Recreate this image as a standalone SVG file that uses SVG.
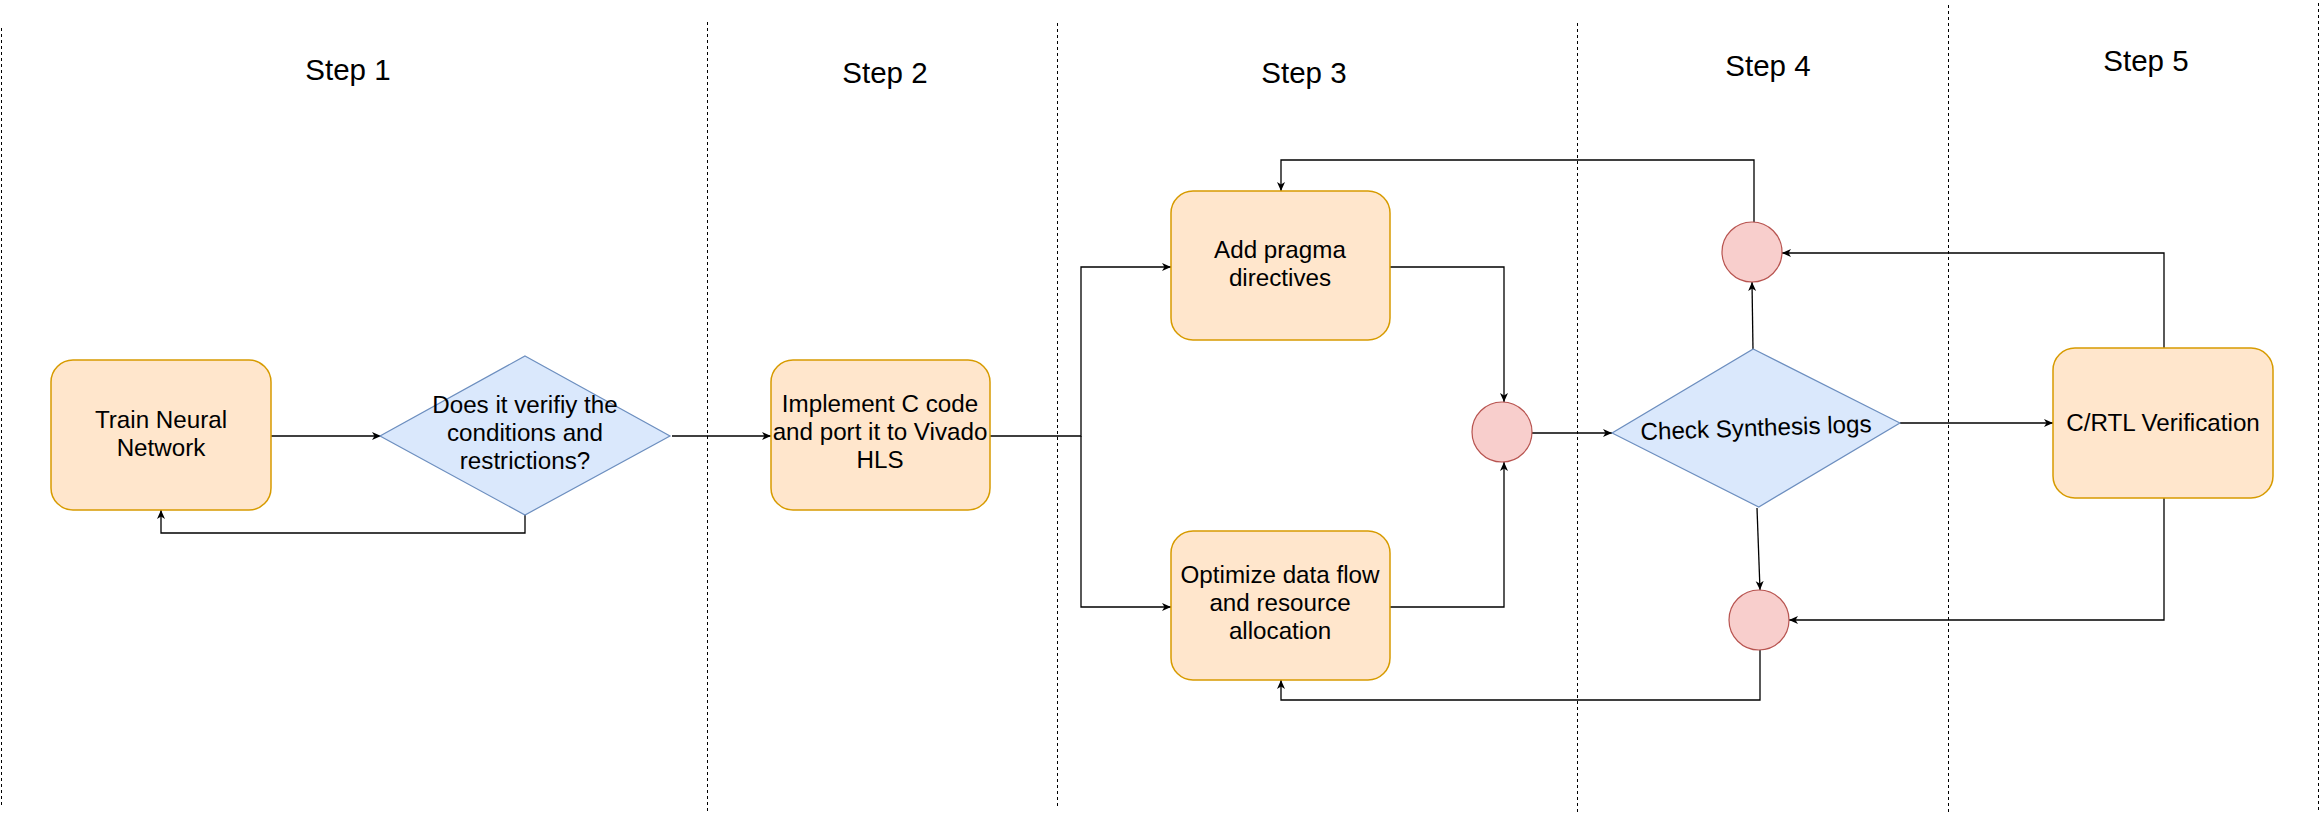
<svg xmlns="http://www.w3.org/2000/svg" width="2324" height="817" viewBox="0 0 2324 817">
<style>
.div{stroke:#000;stroke-width:1;stroke-dasharray:3 3;fill:none;shape-rendering:crispEdges}
.step{font-family:"Liberation Sans",Arial,sans-serif;font-size:29.5px;fill:#000;text-anchor:middle}
.lbl{font-family:"Liberation Sans",Arial,sans-serif;font-size:24.2px;fill:#000;text-anchor:middle}
.box{fill:#ffe6cc;stroke:#d79b00;stroke-width:1.5}
.dia{fill:#dae8fc;stroke:#6c8ebf;stroke-width:1.2}
.cir{fill:#f8cecc;stroke:#b85450;stroke-width:1.2}
.con{fill:none;stroke:#000;stroke-width:1.3;marker-end:url(#arr)}
</style>
<defs>
<marker id="arr" markerUnits="userSpaceOnUse" markerWidth="12" markerHeight="10" refX="9" refY="4" orient="auto">
<path d="M0,0 L9,4 L0,8 L2.5,4 z" fill="#000"/>
</marker>
</defs>
<rect width="2324" height="817" fill="#fff"/>
<g id="lanes">
<line class="div" x1="1.5" y1="28" x2="1.5" y2="805"/>
<line class="div" x1="707.5" y1="22" x2="707.5" y2="812"/>
<line class="div" x1="1057.5" y1="23" x2="1057.5" y2="807"/>
<line class="div" x1="1577.5" y1="23" x2="1577.5" y2="813"/>
<line class="div" x1="1948.5" y1="5" x2="1948.5" y2="813"/>
<line class="div" x1="2318.5" y1="3" x2="2318.5" y2="813"/>
<text class="step" x="348" y="80">Step 1</text>
<text class="step" x="885" y="83">Step 2</text>
<text class="step" x="1304" y="83">Step 3</text>
<text class="step" x="1768" y="76">Step 4</text>
<text class="step" x="2146" y="71">Step 5</text>
</g>
<g id="connectors">
<path class="con" d="M271,436 H381"/>
<path class="con" d="M525,514 V533 H161 V510"/>
<path class="con" d="M672,436 H771"/>
<path class="con" d="M990,436 H1081 V267 H1171"/>
<path class="con" d="M1081,436 V607 H1171"/>
<path class="con" d="M1390,267 H1504 V402"/>
<path class="con" d="M1390,607 H1504 V462"/>
<path class="con" d="M1532,433 H1612"/>
<path class="con" d="M1753,350 L1752,282"/>
<path class="con" d="M1754,222 V160 H1281 V191"/>
<path class="con" d="M1900,423 H2053"/>
<path class="con" d="M2164,348 V253 H1782"/>
<path class="con" d="M1757,508 L1760,590"/>
<path class="con" d="M2164,498 V620 H1789"/>
<path class="con" d="M1760,650 V700 H1281 V680"/>
</g>
<g id="train">
<rect class="box" x="51" y="360" width="220" height="150" rx="22"/>
<text class="lbl" x="161" y="428">Train Neural</text>
<text class="lbl" x="161" y="456">Network</text>
</g>
<g id="check1">
<polygon class="dia" points="525,356 670,436 525,515 380,436"/>
<text class="lbl" x="525" y="413">Does it verifiy the</text>
<text class="lbl" x="525" y="441">conditions and</text>
<text class="lbl" x="525" y="469">restrictions?</text>
</g>
<g id="implement">
<rect class="box" x="771" y="360" width="219" height="150" rx="22"/>
<text class="lbl" x="880" y="412">Implement C code</text>
<text class="lbl" x="880" y="440">and port it to Vivado</text>
<text class="lbl" x="880" y="468">HLS</text>
</g>
<g id="pragma">
<rect class="box" x="1171" y="191" width="219" height="149" rx="22"/>
<text class="lbl" x="1280" y="258">Add pragma</text>
<text class="lbl" x="1280" y="286">directives</text>
</g>
<g id="optimize">
<rect class="box" x="1171" y="531" width="219" height="149" rx="22"/>
<text class="lbl" x="1280" y="583">Optimize data flow</text>
<text class="lbl" x="1280" y="611">and resource</text>
<text class="lbl" x="1280" y="639">allocation</text>
</g>
<g id="merge1">
<circle class="cir" cx="1502" cy="432" r="30"/>
</g>
<g id="check2">
<g transform="rotate(-2 1756 428)">
<polygon class="dia" points="1756,349 1900,428 1756,507 1612,428"/>
<text class="lbl" x="1756" y="436">Check Synthesis logs</text>
</g>
</g>
<g id="merge2">
<circle class="cir" cx="1752" cy="252" r="30"/>
</g>
<g id="merge3">
<circle class="cir" cx="1759" cy="620" r="30"/>
</g>
<g id="crtl">
<rect class="box" x="2053" y="348" width="220" height="150" rx="22"/>
<text class="lbl" x="2163" y="431">C/RTL Verification</text>
</g>
</svg>
